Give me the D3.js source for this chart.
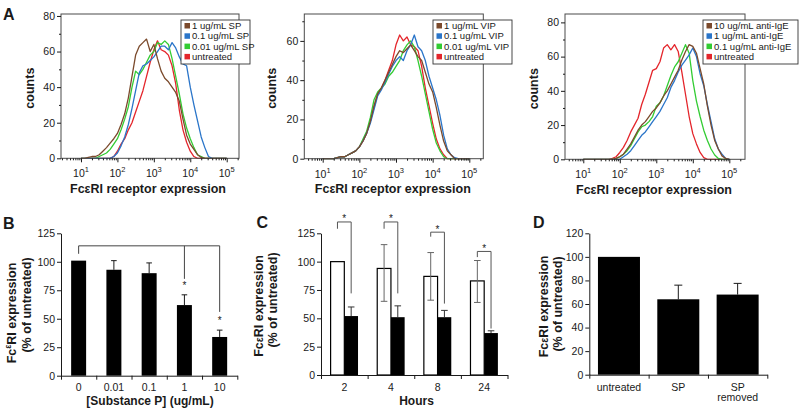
<!DOCTYPE html>
<html><head><meta charset="utf-8">
<script src="https://cdn.jsdelivr.net/npm/d3@7"></script>
<style>
body{margin:0;background:#fff}
svg{display:block}
text{font-family:"Liberation Sans",Arial,Helvetica,sans-serif;fill:#1a1a1a}
</style>
</head><body>
<svg id="chart" width="800" height="411"></svg>
<script>
// ---------------- DATA ----------------
const logBins = [1.0,1.1,1.2,1.3,1.4,1.5,1.6,1.7,1.8,1.9,2.0,2.1,2.2,2.3,2.4,2.5,2.6,2.7,2.8,2.9,3.0,3.1,3.2,3.3,3.4,3.5,3.6,3.7,3.8,3.9,4.0,4.1,4.2,4.3,4.4,4.5,4.6,4.7,4.8,4.9,5.0];
const histColors = ["#7b4a2c","#2a75c9","#33cc33","#e4252b"];

const a1Labels = ["1 ug/mL SP","0.1 ug/mL SP","0.01 ug/mL SP","untreated"];
const a1Brown = [0,0,0.5,1,1,2,4,6,8.5,11,14,19,25,34,46,58,63,65,67,60,64,56,49,45,43,40,37,32,22,13,8,5,2,0.5,0,0,0,0,0,0,0];
const a1Blue  = [0,0,0,0,0,0,0,0,0,1,3,7,12,19,28,38,48,52,53,55,57,60,63,63,61,65,62,57,53,52,40,30,21,12,6,1,0,0,0,0,0];
const a1Green = [0,0,0,0,0,1,2,3,5,8,11,16,22,29,40,49,47,50,54,58,60,65,64,66,64,56,46,36,25,17,11,6,2,1,0,0,0,0,0,0,0];
const a1Red   = [0,0,0,0,0,0,0,0,0,1,4,8,11,16,20,26,32,38,46,54,61,66,61,60,58,52,42,27,16,9,4,1,0,0,0,0,0,0,0,0,0];

const a2Labels = ["1 ug/mL VIP","0.1 ug/mL VIP","0.01 ug/mL VIP","untreated"];
const a2Brown = [0,0,0,0,0.5,1,1,2,3,4,6,9,13,19,27,33,36,40,44,48,52,55,54,56,58,55,52,50,44,38,34,26,17,9,4,2,0,0,0,0,0];
const a2Blue  = [0,0,0,0,0.5,1,1,2,3,4,6,9,13,18,25,32,35,39,43,47,50,52,50,55,58,63,57,55,50,42,36,30,22,12,5,2,0.5,0,0,0,0];
const a2Green = [0,0,0,0,0.5,1,1,2,3,4,6,10,14,21,30,34,36,38,42,44,47,50,55,58,60,57,50,42,33,24,15,8,4,1,0,0,0,0,0,0,0];
const a2Red   = [0,0,0,0,0.5,1,1,2,3,4,6,9,13,19,26,33,36,40,45,50,58,63,60,62,58,57,55,47,36,27,18,10,5,2,0,0,0,0,0,0,0];

const a3Labels = ["10 ug/mL anti-IgE","1 ug/mL anti-IgE","0.1 ug/mL anti-IgE","untreated"];
const a3Brown = [0,0,0,0,0,0,0,0,0,0.5,1.5,3,6,9,13,17,20,22,25,28,30,33,37,40,44,48,52,58,63,67,66,62,53,44,31,20,11,6,2,0.5,0];
const a3Blue  = [0,0,0,0,0,0,0,0,0,0,0,1.5,3,5,8,11,14,16,19,22,25,28,32,36,42,46,51,55,58,61,65,60,50,43,32,22,12,6,3,0.5,0];
const a3Green = [0,0,0,0,0,0,0,0,0,0.5,1.5,3,5,8,12,16,19,20,22,25,31,33,37,43,49,54,57,62,67,62,46,34,25,17,11,6,2.5,0.5,0,0,0];
const a3Red   = [0,0,0,0,0,0,0,0,0.5,1.5,4,7,11,16,20,24,32,38,45,52,53,57,65,67,64,67,63,51,38,25,15,9,4,1,0,0,0,0,0,0,0];

const bCats = ["0","0.01","0.1","1","10"];
const bVals = [101,93,90,62,34];
const bErrTop = [null,101,99,71,40];
const bStar = [false,false,false,true,true];
const bBracketTop = 114;
const bLegEnd = [107,null,null,85,56];

const cCats = ["2","4","8","24"];
const cWhite = [100,94,87,83];
const cWhiteHi = [null,115,108,101];
const cWhiteLo = [null,65,66,64];
const cBlack = [52,51,51,37];
const cBlackHi = [60,61,57,39];
const cBracketTop = [135,135,126,109];
const cBracketLeftEnd = [129,129,122,104];
const cBracketRightEnd = [72,72,63,41];

const dCats = ["untreated","SP","SP removed"];
const dLabelLines = [["untreated"],["SP"],["SP","removed"]];
const dVals = [100,64,68];
const dErrTop = [null,76,77.5];

// ---------------- DRAW ----------------
const svg = d3.select("#chart");
const FS = 10.5;

function styleAxis(g){
  g.selectAll("path.domain").attr("stroke","#1a1a1a");
  g.selectAll("line").attr("stroke","#1a1a1a");
  g.selectAll("text").attr("font-size",FS).attr("fill","#1a1a1a");
}

function histPanel(c){
  const x = d3.scaleLog().domain([Math.pow(10,c.lmin),Math.pow(10,c.lmax)]).range([c.x0,c.x1]);
  const y = d3.scaleLinear().domain([0,c.ymax]).range([c.y1,c.y0]);
  const g = svg.append("g");
  // curves (draw untreated first, brown last)
  const line = d3.line().x((d,i)=>x(Math.pow(10,logBins[i]))).y(d=>y(d));
  [3,2,1,0].forEach(k=>{
    g.append("path").attr("d",line(c.series[k])).attr("fill","none")
     .attr("stroke",histColors[k]).attr("stroke-width",1.3).attr("stroke-linejoin","round");
  });
  // frame
  g.append("rect").attr("x",c.x0).attr("y",c.y0).attr("width",c.x1-c.x0).attr("height",c.y1-c.y0)
   .attr("fill","none").attr("stroke","#4a4a4a").attr("stroke-width",1);
  // y axis
  const ya = g.append("g").attr("transform",`translate(${c.x0},0)`)
    .call(d3.axisLeft(y).tickValues(c.yticks).tickSize(4).tickPadding(2));
  ya.select("path.domain").remove(); styleAxis(ya);
  const ym = g.append("g").attr("transform",`translate(${c.x0},0)`)
    .call(d3.axisLeft(y).tickValues(c.yminor).tickSize(2).tickFormat(""));
  ym.select("path.domain").remove(); styleAxis(ym);
  // x axis
  const majors = [1e1,1e2,1e3,1e4,1e5];
  const minors = [];
  [1,10,100,1000,10000,100000].forEach(b=>{[2,3,4,5,6,7,8,9].forEach(m=>{
    const v=b*m; const lv=Math.log10(v); if(lv>c.lmin && lv<c.lmax) minors.push(v);});});
  const xa = g.append("g").attr("transform",`translate(0,${c.y1})`)
    .call(d3.axisBottom(x).tickValues(majors).tickSize(4).tickFormat(""));
  xa.select("path.domain").remove(); styleAxis(xa);
  const xm = g.append("g").attr("transform",`translate(0,${c.y1})`)
    .call(d3.axisBottom(x).tickValues(minors).tickSize(2).tickFormat(""));
  xm.select("path.domain").remove(); styleAxis(xm);
  majors.forEach((v,i)=>{
    const t = g.append("text").attr("x",x(v)).attr("y",c.y1+19).attr("text-anchor","middle").attr("font-size",FS);
    t.append("tspan").text("10");
    t.append("tspan").attr("font-size",7.5).attr("dy",-5).text(String(i+1));
  });
  // titles
  g.append("text").attr("x",(c.x0+c.x1)/2+c.titleDx).attr("y",c.y1+34.5).attr("text-anchor","middle")
   .attr("font-size",12.5).attr("font-weight","bold").text("FcεRI receptor expression");
  g.append("text").attr("transform",`translate(${c.countsX},${(c.y0+c.y1)/2+2}) rotate(-90)`)
   .attr("text-anchor","middle").attr("dy","0.35em").attr("font-size",12.5).attr("font-weight","bold").text("counts");
  // legend
  const lg = g.append("g");
  lg.append("rect").attr("x",c.lx).attr("y",20).attr("width",c.lw).attr("height",44)
    .attr("fill","#fff").attr("stroke","#333").attr("stroke-width",0.9);
  c.labels.forEach((lab,i)=>{
    const yy = 25.8+10.3*i;
    lg.append("rect").attr("x",c.lx+3.5).attr("y",yy-2.8).attr("width",5.5).attr("height",5.5).attr("fill",histColors[i]);
    lg.append("text").attr("x",c.lx+11).attr("y",yy).attr("dy","0.35em").attr("font-size",9.5).text(lab);
  });
}

histPanel({x0:61,x1:239,y0:14,y1:158.3,lmin:0.451,lmax:5.338,ymax:81.1,yticks:[0,20,40,60,80],yminor:[10,30,50,70],
  series:[a1Brown,a1Blue,a1Green,a1Red],labels:a1Labels,lx:181,lw:69,countsX:30,titleDx:-2});
histPanel({x0:304.3,x1:483.3,y0:14,y1:158.7,lmin:0.498,lmax:5.382,ymax:73.7,yticks:[0,20,40,60],yminor:[10,30,50,70],
  series:[a2Brown,a2Blue,a2Green,a2Red],labels:a2Labels,lx:433,lw:79,countsX:272,titleDx:-1});
histPanel({x0:565,x1:745,y0:14,y1:159.3,lmin:0.499,lmax:5.43,ymax:84.9,yticks:[0,20,40,60,80],yminor:[10,30,50,70],
  series:[a3Brown,a3Blue,a3Green,a3Red],labels:a3Labels,lx:703,lw:95,countsX:534,titleDx:-1});

// panel letters
[["A",3,19.5],["B",3,228.5],["C",256.5,227.5],["D",533,227.5]].forEach(p=>{
  svg.append("text").attr("x",p[1]).attr("y",p[2]).attr("font-size",16).attr("font-weight","bold").text(p[0]);
});

function barAxes(g,x0,x1,y,yt,cats,xBand,ybottom){
  const ya = g.append("g").attr("transform",`translate(${x0},0)`)
    .call(d3.axisLeft(y).tickValues(yt).tickSize(4).tickPadding(2).tickSizeOuter(0));
  styleAxis(ya);
  const bnd = d3.scaleLinear().domain([0,cats.length]).range([x0,x1]);
  const xa = g.append("g").attr("transform",`translate(0,${ybottom})`)
    .call(d3.axisBottom(bnd).tickValues(d3.range(cats.length+1)).tickSize(4).tickFormat("").tickSizeOuter(0));
  styleAxis(xa);
}

function yTitle(g,cx1,cx2,cy1,cy2,superEps){
  const t1 = g.append("text").attr("transform",`translate(${cx1},${cy1}) rotate(-90)`)
    .attr("text-anchor","middle").attr("dy","0.35em").attr("font-size",12.5).attr("font-weight","bold");
  if(superEps){
    t1.append("tspan").text("Fc");
    t1.append("tspan").attr("font-size",8.5).attr("dy",-5).text("ε");
    t1.append("tspan").attr("dy",5).text("RI expression");
  } else {
    t1.append("tspan").text("Fc");
    t1.append("tspan").attr("font-size",10.5).text("ε");
    t1.append("tspan").text("RI expression");
  }
  g.append("text").attr("transform",`translate(${cx2},${cy2}) rotate(-90)`)
    .attr("text-anchor","middle").attr("dy","0.35em").attr("font-size",12.5).attr("font-weight","bold").text("(% of untreated)");
}

// ---- Panel B ----
{
  const g = svg.append("g");
  const x = d3.scaleBand().domain(bCats).range([61,237.3]).paddingInner(0.575).paddingOuter(0.2875);
  const y = d3.scaleLinear().domain([0,125]).range([375.7,233.3]);
  const cx = d=>x(d)+x.bandwidth()/2;
  // error bars
  bCats.forEach((c,i)=>{
    if(bErrTop[i]==null) return;
    g.append("line").attr("x1",cx(c)).attr("x2",cx(c)).attr("y1",y(bVals[i])).attr("y2",y(bErrTop[i])).attr("stroke","#1a1a1a");
    g.append("line").attr("x1",cx(c)-2.8).attr("x2",cx(c)+2.8).attr("y1",y(bErrTop[i])).attr("y2",y(bErrTop[i])).attr("stroke","#1a1a1a");
  });
  g.selectAll("rect.bar").data(bVals).join("rect").attr("x",(d,i)=>x(bCats[i])).attr("width",x.bandwidth())
   .attr("y",d=>y(d)).attr("height",d=>y(0)-y(d)).attr("fill","#000");
  barAxes(g,61,237.3,y,[0,25,50,75,100,125],bCats,x,375.7);
  // significance bracket
  const legs = bCats.map((c,i)=>bLegEnd[i]==null?null:{x:cx(c),yb:y(bLegEnd[i])}).filter(d=>d);
  g.append("line").attr("x1",legs[0].x).attr("x2",legs[legs.length-1].x).attr("y1",y(bBracketTop)).attr("y2",y(bBracketTop)).attr("stroke","#444");
  legs.forEach(l=>g.append("line").attr("x1",l.x).attr("x2",l.x).attr("y1",y(bBracketTop)).attr("y2",l.yb).attr("stroke","#444"));
  bCats.forEach((c,i)=>{ if(bStar[i]) g.append("text").attr("x",cx(c)).attr("y",y(bErrTop[i])-6.3)
     .attr("text-anchor","middle").attr("font-size",10).text("*"); });
  g.selectAll("text.xl").data(bCats).join("text").attr("x",d=>cx(d)).attr("y",390.5).attr("text-anchor","middle").attr("font-size",FS).text(d=>d);
  g.append("text").attr("x",150).attr("y",404.5).attr("text-anchor","middle").attr("font-size",12).attr("font-weight","bold").text("[Substance P] (ug/mL)");
  yTitle(g,12,27,313,305,true);
}

// ---- Panel C ----
{
  const g = svg.append("g");
  const x = d3.scaleBand().domain(cCats).range([321,507.5]).paddingInner(0.412).paddingOuter(0.206);
  const xs = d3.scaleBand().domain(["w","b"]).range([0,x.bandwidth()]);
  const y = d3.scaleLinear().domain([0,125]).range([375,233.3]);
  const wx = c=>x(c)+xs("w")+xs.bandwidth()/2, bx = c=>x(c)+xs("b")+xs.bandwidth()/2;
  g.selectAll("rect.w").data(cWhite).join("rect").attr("x",(d,i)=>x(cCats[i])+xs("w")).attr("width",xs.bandwidth())
   .attr("y",d=>y(d)).attr("height",d=>y(0)-y(d)).attr("fill","#fff").attr("stroke","#000").attr("stroke-width",1.2);
  cCats.forEach((c,i)=>{
    if(cWhiteHi[i]==null) return;
    g.append("line").attr("x1",wx(c)).attr("x2",wx(c)).attr("y1",y(cWhiteLo[i])).attr("y2",y(cWhiteHi[i])).attr("stroke","#666");
    [cWhiteLo[i],cWhiteHi[i]].forEach(v=>g.append("line").attr("x1",wx(c)-3.3).attr("x2",wx(c)+3.3).attr("y1",y(v)).attr("y2",y(v)).attr("stroke","#666"));
  });
  cCats.forEach((c,i)=>{
    g.append("line").attr("x1",bx(c)).attr("x2",bx(c)).attr("y1",y(cBlack[i])).attr("y2",y(cBlackHi[i])).attr("stroke","#333");
    g.append("line").attr("x1",bx(c)-3.3).attr("x2",bx(c)+3.3).attr("y1",y(cBlackHi[i])).attr("y2",y(cBlackHi[i])).attr("stroke","#333");
  });
  g.selectAll("rect.b").data(cBlack).join("rect").attr("x",(d,i)=>x(cCats[i])+xs("b")).attr("width",xs.bandwidth())
   .attr("y",d=>y(d)).attr("height",d=>y(0)-y(d)).attr("fill","#000");
  barAxes(g,321,507.5,y,[0,25,50,75,100,125],cCats,x,375);
  cCats.forEach((c,i)=>{
    const yt=y(cBracketTop[i]);
    g.append("path").attr("d",`M${wx(c)},${y(cBracketLeftEnd[i])}V${yt}H${bx(c)}V${y(cBracketRightEnd[i])}`)
     .attr("fill","none").attr("stroke","#555");
    g.append("text").attr("x",(wx(c)+bx(c))/2).attr("y",yt+0.5).attr("text-anchor","middle").attr("font-size",10).text("*");
  });
  g.selectAll("text.xl").data(cCats).join("text").attr("x",d=>x(d)+x.bandwidth()/2).attr("y",390.5).attr("text-anchor","middle").attr("font-size",FS).text(d=>d);
  g.append("text").attr("x",416.5).attr("y",404.5).attr("text-anchor","middle").attr("font-size",12).attr("font-weight","bold").text("Hours");
  yTitle(g,259,273,306,300,false);
}

// ---- Panel D ----
{
  const g = svg.append("g");
  const x = d3.scaleBand().domain(dCats).range([589.3,767.3]).paddingInner(0.292).paddingOuter(0.146);
  const y = d3.scaleLinear().domain([0,120]).range([374.7,233.3]);
  const cx = d=>x(d)+x.bandwidth()/2;
  dCats.forEach((c,i)=>{
    if(dErrTop[i]==null) return;
    g.append("line").attr("x1",cx(c)).attr("x2",cx(c)).attr("y1",y(dVals[i])).attr("y2",y(dErrTop[i])).attr("stroke","#1a1a1a");
    g.append("line").attr("x1",cx(c)-4).attr("x2",cx(c)+4).attr("y1",y(dErrTop[i])).attr("y2",y(dErrTop[i])).attr("stroke","#1a1a1a");
  });
  g.selectAll("rect.bar").data(dVals).join("rect").attr("x",(d,i)=>x(dCats[i])).attr("width",x.bandwidth())
   .attr("y",d=>y(d)).attr("height",d=>y(0)-y(d)).attr("fill","#000");
  barAxes(g,589.3,767.3,y,[0,20,40,60,80,100,120],dCats,x,374.7);
  dCats.forEach((c,i)=>{
    dLabelLines[i].forEach((ln,j)=>g.append("text").attr("x",cx(c)).attr("y",390.5+j*10.8).attr("text-anchor","middle").attr("font-size",FS).text(ln));
  });
  yTitle(g,544,558,306.5,304,false);
}
</script>
</body></html>
